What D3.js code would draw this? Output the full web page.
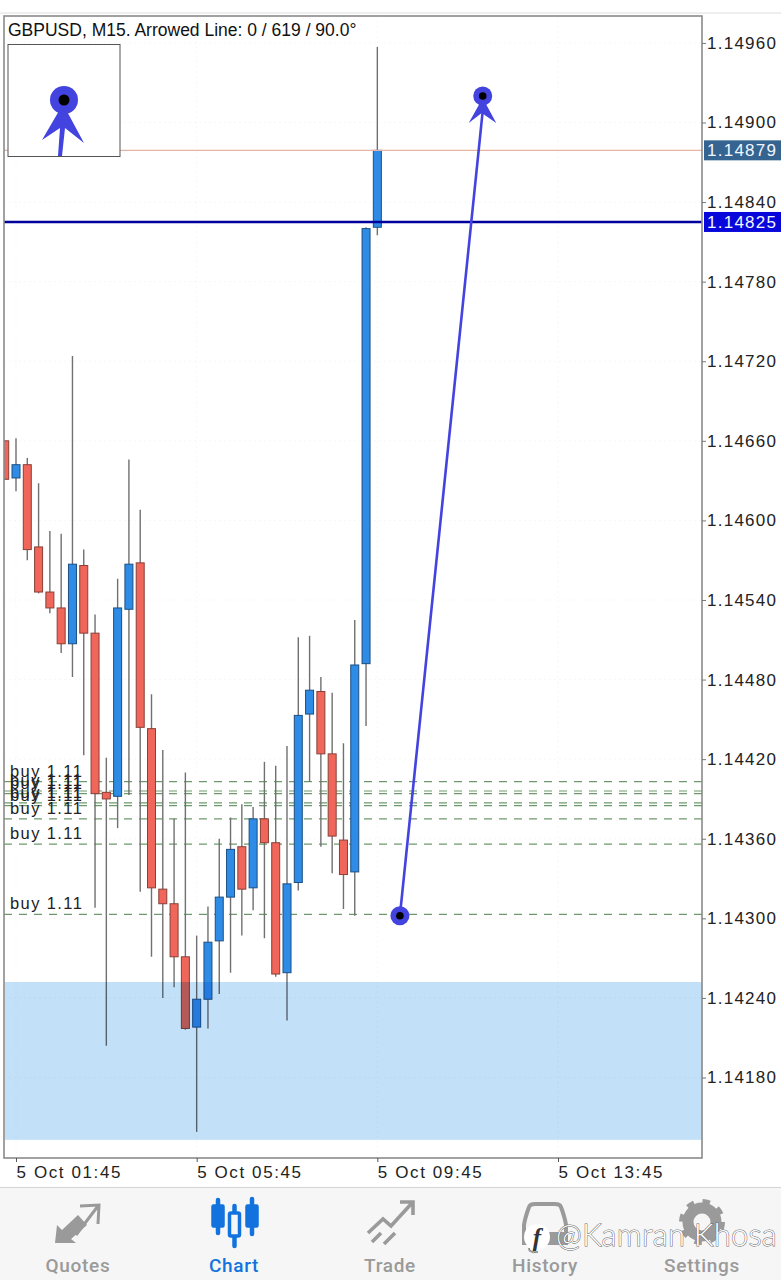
<!DOCTYPE html>
<html>
<head>
<meta charset="utf-8">
<title>GBPUSD M15</title>
<script src="https://cdn.jsdelivr.net/npm/d3@7"></script>
<style>
    html, body { margin: 0; padding: 0; background: #fff; }
    svg { display: block; font-family: "Liberation Sans", sans-serif; }
</style>
</head>
<body>
<div id="canvas"></div>
<script>
"use strict"

/* Chart data */
let candleTimes = ["01:30","01:45","02:00","02:15","02:30","02:45","03:00","03:15","03:30","03:45",
    "04:00","04:15","04:30","04:45","05:00","05:15","05:30","05:45","06:00","06:15",
    "06:30","06:45","07:00","07:15","07:30","07:45","08:00","08:15","08:30","08:45",
    "09:00","09:15","09:30","09:45"];
let opens = [1.14660,1.14632,1.14642,1.14580,1.14546,1.14534,1.14507,1.14566,1.14515,1.14395,
    1.14392,1.14533,1.14568,1.14443,1.14322,1.14311,1.14271,1.14218,1.14239,1.14283,
    1.14316,1.14354,1.14323,1.14375,1.14357,1.14259,1.14327,1.14454,1.14471,1.14424,
    1.14359,1.14335,1.14492,1.14821];
let highs = [1.14660,1.14662,1.14647,1.14628,1.14592,1.14590,1.14724,1.14578,1.14529,1.14421,
    1.14556,1.14646,1.14608,1.14469,1.14427,1.14375,1.14410,1.14287,1.14309,1.14360,
    1.14376,1.14386,1.14384,1.14418,1.14415,1.14430,1.14512,1.14513,1.14482,1.14470,
    1.14432,1.14525,1.14821,1.14957];
let lows = [1.14631,1.14622,1.14570,1.14545,1.14530,1.14500,1.14482,1.14423,1.14308,1.14204,
    1.14368,1.14393,1.14320,1.14271,1.14240,1.14248,1.14216,1.14139,1.14217,1.14243,
    1.14259,1.14287,1.14306,1.14285,1.14256,1.14223,1.14321,1.14403,1.14354,1.14334,
    1.14307,1.14302,1.14445,1.14815];
let closes = [1.14631,1.14642,1.14578,1.14546,1.14534,1.14507,1.14567,1.14515,1.14394,1.14390,
    1.14534,1.14567,1.14444,1.14323,1.14311,1.14271,1.14217,1.14239,1.14282,1.14316,
    1.14352,1.14322,1.14375,1.14357,1.14258,1.14326,1.14453,1.14472,1.14424,1.14362,
    1.14333,1.14491,1.14820,1.14879];

let priceTicks = [1.14960,1.14900,1.14840,1.14780,1.14720,1.14660,1.14600,1.14540,1.14480,
    1.14420,1.14360,1.14300,1.14240,1.14180];
let timeTicks = ["01:45","05:45","09:45","13:45"];

let buyPrices = [1.14403,1.14396,1.14394,1.14387,1.14385,1.14375,1.14356,1.14303];
let buyLabels = ["buy 1.11","buy 1.11","buy 1.11","buy 1.11","buy 1.11","buy 1.11","buy 1.11","buy 1.11"];

let askPrice = 1.14879;
let bidPrice = 1.14825;
let zonePrices = [1.14252,1.14133];
let arrowTimes = ["10:15","12:05"];
let arrowPrices = [1.14302,1.14920];

let tabLabels = ["Quotes","Chart","Trade","History","Settings"];

/* Configuration variables: drawing */
let svgWidth = 781;
let svgHeight = 1280;

let plotLeft = 4;
let plotRight = 702;
let plotTop = 16;
let plotBottom = 1158;
let barWidth = 8;

let blueColor = "#2f8ce6";
let redColor = "#f0665a";
let arrowColor = "#4343e0";
let tabGray = "#9a9a9a";
let tabBlue = "#1273de";

let svg = d3.select("#canvas")
    .append("svg")
    .attr("width", svgWidth)
    .attr("height", svgHeight);

let parseTime = d3.timeParse("%H:%M");

// Scales: pinned on the tick positions in the picture
let xScale = d3.scaleTime()
    .domain([parseTime("01:45"), parseTime("13:45")])
    .range([16, 558]);

let yScale = d3.scaleLinear()
    .domain([1.14960, 1.14180])
    .range([42.9, 1077.5]);

let candles = candleTimes.map(function(t, i) {
    return {time: parseTime(t), open: opens[i], high: highs[i], low: lows[i], close: closes[i]};
});

/* Clip for everything inside the plot */
svg.append("clipPath")
    .attr("id", "plotClip")
    .append("rect")
    .attr("x", plotLeft)
    .attr("y", plotTop)
    .attr("width", plotRight - plotLeft)
    .attr("height", plotBottom - plotTop);

let plot = svg.append("g").attr("clip-path", "url(#plotClip)");

/* Very faint dotted grid */
plot.selectAll(".gridY")
    .data(priceTicks)
    .join("line")
    .attr("x1", plotLeft)
    .attr("x2", plotRight)
    .attr("y1", function(d) { return yScale(d); })
    .attr("y2", function(d) { return yScale(d); })
    .attr("stroke", "#f7f7f7")
    .attr("stroke-dasharray", "2,3");

plot.selectAll(".gridX")
    .data(timeTicks)
    .join("line")
    .attr("x1", function(d) { return xScale(parseTime(d)); })
    .attr("x2", function(d) { return xScale(parseTime(d)); })
    .attr("y1", plotTop)
    .attr("y2", plotBottom)
    .attr("stroke", "#f7f7f7")
    .attr("stroke-dasharray", "2,3");

/* Pending buy orders */
plot.selectAll(".buyLine")
    .data(buyPrices)
    .join("line")
    .attr("x1", plotLeft)
    .attr("x2", plotRight)
    .attr("y1", function(d) { return yScale(d); })
    .attr("y2", function(d) { return yScale(d); })
    .attr("stroke", "#6d9a6d")
    .attr("stroke-width", 1.2)
    .attr("stroke-dasharray", "8,7");

/* Candles */
plot.selectAll(".wick")
    .data(candles)
    .join("line")
    .attr("x1", function(d) { return xScale(d.time); })
    .attr("x2", function(d) { return xScale(d.time); })
    .attr("y1", function(d) { return yScale(d.high); })
    .attr("y2", function(d) { return yScale(d.low); })
    .attr("stroke", "#707070")
    .attr("stroke-width", 1.4);

plot.selectAll(".body")
    .data(candles)
    .join("rect")
    .attr("x", function(d) { return xScale(d.time) - barWidth / 2; })
    .attr("y", function(d) { return yScale(Math.max(d.open, d.close)); })
    .attr("width", barWidth)
    .attr("height", function(d) { return yScale(Math.min(d.open, d.close)) - yScale(Math.max(d.open, d.close)); })
    .attr("fill", function(d) { return d.close >= d.open ? blueColor : redColor; })
    .attr("stroke", function(d) { return d.close >= d.open ? "#1d4f82" : "#8a4036"; })
    .attr("stroke-width", 1);

/* Blue zone, multiplied over the candles */
plot.append("rect")
    .attr("x", plotLeft + 1)
    .attr("y", yScale(zonePrices[0]))
    .attr("width", plotRight - plotLeft - 1)
    .attr("height", yScale(zonePrices[1]) - yScale(zonePrices[0]))
    .attr("fill", "#c2e0f8")
    .style("mix-blend-mode", "multiply");

/* Ask and bid lines */
plot.append("line")
    .attr("x1", plotLeft)
    .attr("x2", plotRight)
    .attr("y1", yScale(askPrice))
    .attr("y2", yScale(askPrice))
    .attr("stroke", "#e6b3a6")
    .attr("stroke-width", 1.2);

plot.append("line")
    .attr("x1", plotLeft)
    .attr("x2", plotRight)
    .attr("y1", yScale(bidPrice))
    .attr("y2", yScale(bidPrice))
    .attr("stroke", "#00009c")
    .attr("stroke-width", 2.6);

/* Buy labels */
svg.selectAll(".buyLabel")
    .data(buyPrices)
    .join("text")
    .attr("x", 10)
    .attr("y", function(d) { return yScale(d) - 5; })
    .attr("font-size", 16.5)
    .attr("letter-spacing", 1.4)
    .attr("fill", "#222")
    .text(function(d, i) { return buyLabels[i]; });

/* Arrowed line */
let ax1 = xScale(parseTime(arrowTimes[0]));
let ay1 = yScale(arrowPrices[0]);
let ax2 = xScale(parseTime(arrowTimes[1]));
let ay2 = yScale(arrowPrices[1]);

plot.append("line")
    .attr("x1", ax1)
    .attr("y1", ay1)
    .attr("x2", ax2)
    .attr("y2", ay2 + 15)
    .attr("stroke", arrowColor)
    .attr("stroke-width", 2.6);

plot.append("path")
    .attr("transform", "translate(" + ax2 + "," + ay2 + ")")
    .attr("d", "M0,2 L13.5,27 L-1,17 L-14,27 Z")
    .attr("fill", arrowColor);

plot.selectAll(".anchor")
    .data([[ax1, ay1], [ax2, ay2]])
    .join("circle")
    .attr("cx", function(d) { return d[0]; })
    .attr("cy", function(d) { return d[1]; })
    .attr("r", 9.5)
    .attr("fill", arrowColor);

plot.selectAll(".anchorDot")
    .data([[ax1, ay1], [ax2, ay2]])
    .join("circle")
    .attr("cx", function(d) { return d[0]; })
    .attr("cy", function(d) { return d[1]; })
    .attr("r", 3.8)
    .attr("fill", "#000");

/* Frame */
svg.append("line")
    .attr("x1", 0).attr("x2", svgWidth)
    .attr("y1", 13).attr("y2", 13)
    .attr("stroke", "#dedede");

svg.append("rect")
    .attr("x", plotLeft)
    .attr("y", plotTop)
    .attr("width", plotRight - plotLeft)
    .attr("height", plotBottom - plotTop)
    .attr("fill", "none")
    .attr("stroke", "#8a8a8a")
    .attr("stroke-width", 1.6);

/* Price axis */
let yAxis = d3.axisRight(yScale)
    .tickValues(priceTicks)
    .tickSize(4)
    .tickPadding(1)
    .tickFormat(d3.format(".5f"));

let yAxisG = svg.append("g")
    .attr("transform", "translate(" + plotRight + ",0)")
    .call(yAxis);
yAxisG.select(".domain").remove();
yAxisG.selectAll("line").attr("stroke", "#777");
yAxisG.selectAll("text")
    .attr("font-family", "Liberation Sans")
    .attr("font-size", 17)
    .attr("letter-spacing", 1.25)
    .attr("fill", "#222");

/* Price tags */
let priceTags = [
    {price: askPrice, color: "#34648f"},
    {price: bidPrice, color: "#0707dc"}
];
for (let i = 0; i < priceTags.length; i++) {
    let tagY = yScale(priceTags[i].price);
    svg.append("rect")
        .attr("x", 704)
        .attr("y", tagY - 10)
        .attr("width", svgWidth - 704)
        .attr("height", 20)
        .attr("fill", priceTags[i].color);
    svg.append("text")
        .attr("x", 707)
        .attr("y", tagY)
        .attr("dy", "0.36em")
        .attr("font-size", 17)
        .attr("letter-spacing", 1.25)
        .attr("fill", "#f2f6ff")
        .text(d3.format(".5f")(priceTags[i].price));
}

/* Time axis */
let xAxis = d3.axisBottom(xScale)
    .tickValues(timeTicks.map(parseTime))
    .tickSize(4)
    .tickPadding(4)
    .tickFormat(function(d) { return "5 Oct " + d3.timeFormat("%H:%M")(d); });

let xAxisG = svg.append("g")
    .attr("transform", "translate(0," + plotBottom + ")")
    .call(xAxis);
xAxisG.select(".domain").remove();
xAxisG.selectAll("line").attr("stroke", "#555");
xAxisG.selectAll("text")
    .attr("font-family", "Liberation Sans")
    .attr("font-size", 17)
    .attr("letter-spacing", 1.6)
    .attr("text-anchor", "start")
    .attr("fill", "#222");

/* Title and magnifier box */
svg.append("text")
    .attr("x", 8)
    .attr("y", 36)
    .attr("font-size", 17.5)
    .attr("fill", "#111")
    .text("GBPUSD, M15. Arrowed Line: 0 / 619 / 90.0°");

svg.append("rect")
    .attr("x", 8)
    .attr("y", 44.5)
    .attr("width", 112)
    .attr("height", 112)
    .attr("fill", "#fff")
    .attr("stroke", "#555");

svg.append("path")
    .attr("d", "M63,104 L84,143 L65,128 L62,156 L58,156 L60,128 L42,140 Z")
    .attr("fill", arrowColor);
svg.append("circle").attr("cx", 64).attr("cy", 100).attr("r", 14).attr("fill", arrowColor);
svg.append("circle").attr("cx", 64).attr("cy", 100).attr("r", 5.5).attr("fill", "#000");

/* Tab bar */
svg.append("rect")
    .attr("x", 0)
    .attr("y", 1187)
    .attr("width", svgWidth)
    .attr("height", svgHeight - 1187)
    .attr("fill", "#f6f6f6");
svg.append("line")
    .attr("x1", 0).attr("x2", svgWidth)
    .attr("y1", 1187.5).attr("y2", 1187.5)
    .attr("stroke", "#d4d4d4");

let tabCenters = [78, 234, 390, 545, 702];
svg.selectAll(".tabLabel")
    .data(tabLabels)
    .join("text")
    .attr("x", function(d, i) { return tabCenters[i]; })
    .attr("y", 1272)
    .attr("text-anchor", "middle")
    .attr("font-family", "Roboto")
    .attr("font-weight", 500)
    .attr("font-size", 19)
    .attr("letter-spacing", 0.7)
    .attr("fill", function(d) { return d === "Chart" ? tabBlue : tabGray; })
    .text(function(d) { return d; });

// Quotes icon
svg.append("path")
    .attr("d", "M55,1243 L57,1225 L62,1230 L78,1215 L87,1225 L71,1239 L76,1243 Z")
    .attr("fill", tabGray);
svg.append("path")
    .attr("d", "M80,1206 L99,1205 L98,1224 M98,1206 L76,1235")
    .attr("fill", "none")
    .attr("stroke", tabGray)
    .attr("stroke-width", 3);

// Chart icon
let iconCandles = [
    {x: 218, top: 1200, bodyTop: 1205, bodyBottom: 1227, bottom: 1233, hollow: false},
    {x: 234.5, top: 1206, bodyTop: 1213, bodyBottom: 1236, bottom: 1246, hollow: true},
    {x: 252, top: 1199, bodyTop: 1205, bodyBottom: 1227, bottom: 1234, hollow: false}
];
for (let i = 0; i < iconCandles.length; i++) {
    let c = iconCandles[i];
    svg.append("line")
        .attr("x1", c.x).attr("x2", c.x)
        .attr("y1", c.top).attr("y2", c.bottom)
        .attr("stroke", tabBlue)
        .attr("stroke-width", 4.5)
        .attr("stroke-linecap", "round");
    svg.append("rect")
        .attr("x", c.hollow ? c.x - 5 : c.x - 6)
        .attr("y", c.bodyTop)
        .attr("width", c.hollow ? 10 : 12)
        .attr("height", c.bodyBottom - c.bodyTop)
        .attr("rx", 1.5)
        .attr("fill", c.hollow ? "#f6f6f6" : tabBlue)
        .attr("stroke", tabBlue)
        .attr("stroke-width", c.hollow ? 3.5 : 1.5);
}

// Trade icon
svg.append("path")
    .attr("d", "M368,1233 L383,1219 L391,1226 L412,1203 M400,1202 L413,1202 L413,1215 M372,1242 L381,1233 M384,1244 L395,1233")
    .attr("fill", "none")
    .attr("stroke", tabGray)
    .attr("stroke-width", 3.6);

// History icon
svg.append("path")
    .attr("d", "M524,1243 L524,1225 Q525,1218 529,1207 Q530,1204 535,1204 L555,1204 Q560,1204 561,1207 Q565,1218 566,1225 L566,1243 Z")
    .attr("fill", "none")
    .attr("stroke", tabGray)
    .attr("stroke-width", 4);
svg.append("rect")
    .attr("x", 526).attr("y", 1232).attr("width", 38).attr("height", 12)
    .attr("fill", tabGray);

// Settings icon
svg.append("circle")
    .attr("cx", 702).attr("cy", 1222).attr("r", 20)
    .attr("fill", "none")
    .attr("stroke", tabGray)
    .attr("stroke-width", 6)
    .attr("stroke-dasharray", "7.2,8.5");
svg.append("circle")
    .attr("cx", 702).attr("cy", 1222).attr("r", 14)
    .attr("fill", "none")
    .attr("stroke", tabGray)
    .attr("stroke-width", 11);

/* Watermark */
svg.append("circle")
    .attr("cx", 537).attr("cy", 1237).attr("r", 13)
    .attr("fill", "#fff");
svg.append("path")
    .attr("d", "M529,1248 Q529,1252 538,1252 Q533,1254 529,1251 Z")
    .attr("fill", "#fff")
    .attr("stroke", "#444")
    .attr("stroke-width", 0.6);
svg.append("text")
    .attr("x", 537)
    .attr("y", 1246)
    .attr("text-anchor", "middle")
    .attr("font-size", 25)
    .attr("font-style", "italic")
    .attr("font-weight", "bold")
    .attr("font-family", "Liberation Serif")
    .attr("fill", "#333")
    .text("f");
svg.append("text")
    .attr("x", 556)
    .attr("y", 1246)
    .attr("font-family", "Lato")
    .attr("font-weight", 300)
    .attr("font-size", 31)
    .attr("letter-spacing", 0.2)
    .attr("fill", "#fff")
    .attr("stroke", "#6a6a6a")
    .attr("stroke-width", 1)
    .style("paint-order", "stroke")
    .text("@Kamran Khosa");
</script>
</body>
</html>
